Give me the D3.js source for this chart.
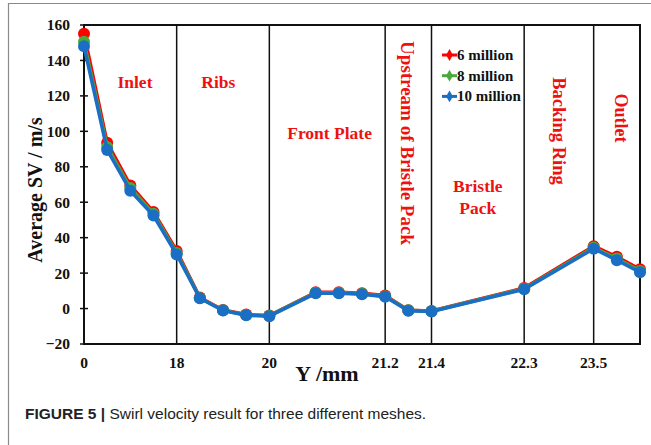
<!DOCTYPE html>
<html>
<head>
<meta charset="utf-8">
<script src="https://cdn.jsdelivr.net/npm/d3@7"></script>
<style>
  body { margin: 0; background: #fff; }
  svg { display: block; }
</style>
</head>
<body>
<div class="chart"></div>
<script>
const width = 651
const height = 445

// category slot of each sampled point (the x axis is an evenly spaced category axis)
const slots = [0, 1, 2, 3, 4, 5, 6, 7, 8, 10, 11, 12, 13, 14, 15, 19, 22, 23, 24]

const series = ["6 million", "8 million", "10 million"]
const colors = ["#ff0000", "#4aa83c", "#1a6fc4"]

const sv6 = [155, 93.5, 69.5, 54.5, 32.5, 6.2, -0.8, -3.4, -3.9, 9.2, 9.2, 8.6, 7.4, -0.9, -1.4, 11.6, 35.2, 29.2, 22.2]
const sv8 = [150.5, 91.2, 68, 53.5, 31.4, 6, -1, -3.6, -4.1, 8.9, 8.9, 8.3, 7, -1, -1.5, 11.2, 34.4, 28.2, 21.2]
const sv10 = [148, 89.5, 66.5, 52.5, 30.5, 5.8, -1.1, -3.8, -4.3, 8.6, 8.6, 8.1, 6.6, -1.2, -1.7, 10.9, 33.8, 27.3, 20.5]

const tickSlots = [0, 4, 8, 13, 15, 19, 22]
const tickLabels = ["0", "18", "20", "21.2", "21.4", "22.3", "23.5"]
const yTicks = [-20, 0, 20, 40, 60, 80, 100, 120, 140, 160]

const regions = ["Inlet", "Ribs", "Front Plate", "Upstream of Bristle Pack", "Bristle Pack", "Backing Ring", "Outlet"]

const margin = { top: 25, right: 11, bottom: 101, left: 84 }
const serif = "'Liberation Serif', 'Times New Roman', serif"

const svg = d3.select(".chart").append("svg")
    .attr("width", width)
    .attr("height", height)

// figure frame
svg.append("path")
    .attr("d", "M8.5,445 V3.5 H651")
    .attr("fill", "none")
    .attr("stroke", "#8a8a8a")
    .attr("stroke-width", 1.2)

const xScale = d3.scaleLinear()
    .domain([0, 24])
    .range([margin.left, width - margin.right])

const yScale = d3.scaleLinear()
    .domain([-20, 160])
    .range([height - margin.bottom, margin.top])

const g = svg.append("g")

// section dividers
g.selectAll(".divider")
    .data(tickSlots.slice(1))
    .enter()
    .append("line")
    .attr("x1", d => xScale(d))
    .attr("x2", d => xScale(d))
    .attr("y1", yScale(160))
    .attr("y2", yScale(-20))
    .attr("stroke", "#111")
    .attr("stroke-width", 1.5)

// plot border
g.append("rect")
    .attr("x", xScale(0))
    .attr("y", yScale(160))
    .attr("width", xScale(24) - xScale(0))
    .attr("height", yScale(-20) - yScale(160))
    .attr("fill", "none")
    .attr("stroke", "#111")
    .attr("stroke-width", 2)

// y axis
const yAxis = g.append("g")
    .attr("transform", "translate(" + xScale(0) + ",0)")
    .call(d3.axisLeft(yScale).tickValues(yTicks).tickSize(0).tickPadding(14))
yAxis.select(".domain").remove()
yAxis.selectAll("text")
    .attr("font-family", serif)
    .attr("font-weight", "bold")
    .attr("font-size", 15.5)
    .attr("fill", "#111")
g.selectAll(".ytick")
    .data(yTicks)
    .enter()
    .append("line")
    .attr("x1", xScale(0) - 4)
    .attr("x2", xScale(0) + 4)
    .attr("y1", d => yScale(d))
    .attr("y2", d => yScale(d))
    .attr("stroke", "#111")
    .attr("stroke-width", 1.5)

// x axis labels
g.selectAll(".xlab")
    .data(tickSlots)
    .enter()
    .append("text")
    .attr("x", d => xScale(d))
    .attr("y", yScale(-20) + 24)
    .attr("text-anchor", "middle")
    .attr("font-family", serif)
    .attr("font-weight", "bold")
    .attr("font-size", 15.5)
    .attr("fill", "#111")
    .text((d, i) => tickLabels[i])

svg.append("text")
    .attr("x", 327)
    .attr("y", 381)
    .attr("text-anchor", "middle")
    .attr("font-family", serif)
    .attr("font-weight", "bold")
    .attr("font-size", 22)
    .attr("fill", "#111")
    .text("Y /mm")

svg.append("text")
    .attr("transform", "translate(42,190) rotate(-90)")
    .attr("text-anchor", "middle")
    .attr("font-family", serif)
    .attr("font-weight", "bold")
    .attr("font-size", 20)
    .attr("fill", "#111")
    .text("Average SV / m/s")

// region labels
const regionText = (t, x, y, rot, size) => {
    svg.append("text")
        .attr("transform", "translate(" + xScale(x) + "," + yScale(y) + ")" + (rot ? " rotate(90)" : ""))
        .attr("text-anchor", "middle")
        .attr("dominant-baseline", "central")
        .attr("font-family", serif)
        .attr("font-weight", "bold")
        .attr("font-size", size)
        .attr("fill", "#ee1111")
        .text(t)
}
regionText(regions[0], 2.2, 128, false, 17.5)
regionText(regions[1], 5.8, 128, false, 17.5)
regionText(regions[2], 10.6, 99, false, 17.5)
regionText(regions[3], 13.95, 93.4, true, 19)
regionText("Bristle", 17, 69.2, false, 17.5)
regionText("Pack", 17, 56.7, false, 17.5)
regionText(regions[5], 20.5, 100.2, true, 18.5)
regionText(regions[6], 23.2, 107.5, true, 18)

// series
const allValues = [sv6, sv8, sv10]
const line = d3.line()
    .x(d => xScale(d[0]))
    .y(d => yScale(d[1]))

allValues.forEach((vals, s) => {
    const pts = slots.map((p, i) => [p, vals[i]])
    g.append("path")
        .datum(pts)
        .attr("fill", "none")
        .attr("stroke", colors[s])
        .attr("stroke-width", 3.5)
        .attr("stroke-linejoin", "round")
        .attr("d", line)
    g.selectAll(".pt" + s)
        .data(pts)
        .enter()
        .append("circle")
        .attr("cx", d => xScale(d[0]))
        .attr("cy", d => yScale(d[1]))
        .attr("r", 6)
        .attr("fill", colors[s])
})

// legend
const legend = svg.append("g").attr("transform", "translate(442,55)")
series.forEach((name, i) => {
    const row = legend.append("g").attr("transform", "translate(0," + (i * 20.7) + ")")
    row.append("line")
        .attr("x1", 0).attr("x2", 15)
        .attr("stroke", colors[i]).attr("stroke-width", 3)
    row.append("path")
        .attr("d", d3.symbol(d3.symbolDiamond, 40))
        .attr("transform", "translate(7.5,0)")
        .attr("fill", colors[i])
    row.append("text")
        .attr("x", 15)
        .attr("y", 0)
        .attr("dominant-baseline", "central")
        .attr("font-family", serif)
        .attr("font-weight", "bold")
        .attr("font-size", 15)
        .attr("fill", "#111")
        .text(name)
})

// caption
const cap = svg.append("text")
    .attr("x", 25)
    .attr("y", 419)
    .attr("font-family", "'Liberation Sans', Arial, sans-serif")
    .attr("font-size", 15.5)
    .attr("fill", "#222")
cap.append("tspan").attr("font-weight", "bold").text("FIGURE 5 | ")
cap.append("tspan").text("Swirl velocity result for three different meshes.")
</script>
</body>
</html>
